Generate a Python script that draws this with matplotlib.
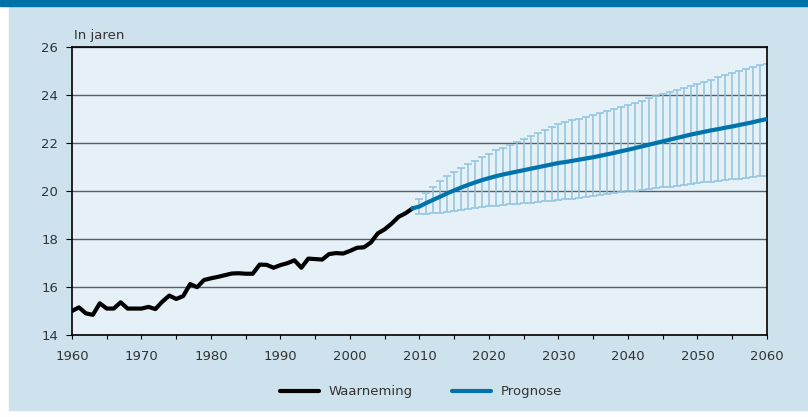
import matplotlib.pyplot as plt
from matplotlib.patches import Rectangle

# Waarneming 1960-2009
obs_years = list(range(1960, 2010))
obs_values = [15.0, 15.15, 14.9, 14.84, 15.32, 15.1, 15.1, 15.36, 15.1, 15.1,
              15.1, 15.17, 15.08, 15.39, 15.64, 15.5, 15.62, 16.12, 15.99, 16.29,
              16.36, 16.42, 16.49, 16.56, 16.57, 16.55, 16.55, 16.93, 16.92, 16.8,
              16.91, 16.99, 17.11, 16.8, 17.18, 17.16, 17.14, 17.37, 17.41, 17.39,
              17.5, 17.63, 17.65, 17.85, 18.23, 18.4, 18.64, 18.92, 19.07, 19.27]

# Prognose 2009-2060 (2009 = laatste waarneming)
prog_years = list(range(2009, 2061))
prog_mean = [19.27,
             19.35, 19.5, 19.63, 19.76, 19.9, 20.02, 20.14, 20.25, 20.35, 20.45,
             20.53, 20.61, 20.68, 20.74, 20.8, 20.86, 20.92, 20.98, 21.04, 21.1,
             21.16, 21.2, 21.25, 21.3, 21.35, 21.4, 21.46, 21.52, 21.58, 21.65,
             21.71, 21.78, 21.85, 21.92, 21.99, 22.06, 22.13, 22.2, 22.27, 22.34,
             22.4, 22.46, 22.52, 22.57, 22.63, 22.68, 22.74, 22.8, 22.86, 22.93,
             22.99]
prog_upper = [19.27,
              19.67, 19.93, 20.18, 20.39, 20.6, 20.78, 20.94, 21.1, 21.25, 21.4,
              21.55, 21.68, 21.8, 21.92, 22.04, 22.16, 22.28, 22.4, 22.52, 22.65,
              22.78, 22.86, 22.93, 23.0, 23.08, 23.16, 23.24, 23.32, 23.41, 23.5,
              23.58, 23.67, 23.76, 23.85, 23.94, 24.03, 24.11, 24.19, 24.27, 24.36,
              24.44, 24.53, 24.62, 24.72, 24.81, 24.9, 24.98, 25.06, 25.14, 25.22,
              25.29]
prog_lower = [19.27,
              19.03, 19.03, 19.06, 19.09, 19.13, 19.17, 19.2, 19.24, 19.28, 19.31,
              19.35, 19.38, 19.41, 19.44, 19.46, 19.49, 19.51, 19.54, 19.56, 19.59,
              19.62, 19.65, 19.68, 19.71, 19.74, 19.78, 19.82, 19.86, 19.9, 19.94,
              19.98, 20.01, 20.04, 20.07, 20.11, 20.15, 20.18, 20.22, 20.25, 20.29,
              20.32, 20.35, 20.38, 20.41, 20.44, 20.48, 20.51, 20.54, 20.57, 20.6,
              20.63]

x_ticks = list(range(1960, 2061, 10))
y_ticks = [14, 16, 18, 20, 22, 24, 26]

panel_bg = '#cde2ed'
plot_bg = '#e5f0f7'
band_col = '#0072aa'
blue = '#0073aa'
err_col = '#8fc3dd'
text_col = '#333333'

plt.rcParams['font.family'] = ['DejaVu Sans']

fig = plt.figure(figsize=(8.08, 4.17), dpi=100)
fig.patch.set_facecolor('white')
# achtergrondpaneel en blauwe balk bovenaan
fig.patches.append(Rectangle((9 / 808, 1 - 410 / 417), 1 - 9 / 808, (410 - 6) / 417,
                             transform=fig.transFigure, color=panel_bg, zorder=-10))
fig.patches.append(Rectangle((0, 1 - 6 / 417), 1, 6 / 417,
                             transform=fig.transFigure, color=band_col, zorder=-10))

ax = fig.add_axes([72 / 808, 1 - 335 / 417, (767 - 72) / 808, (335 - 46.7) / 417])
ax.set_facecolor(plot_bg)

# foutmarges
ey = prog_mean[1:]
lo = [m - l for m, l in zip(ey, prog_lower[1:])]
hi = [u - m for m, u in zip(ey, prog_upper[1:])]
ax.errorbar(prog_years[1:], ey, yerr=[lo, hi], fmt='none', ecolor=err_col,
            elinewidth=1.1, capsize=2.6, capthick=1.1, zorder=2)

ax.plot(obs_years, obs_values, color='black', lw=3, zorder=3,
        solid_capstyle='round', solid_joinstyle='round', label='Waarneming')
ax.plot(prog_years, prog_mean, color=blue, lw=3, zorder=3,
        solid_capstyle='round', label='Prognose')

ax.set_xlim(1960, 2060)
ax.set_ylim(14, 26)
ax.set_xticks(x_ticks)
ax.set_xticks(list(range(1960, 2061, 5)), minor=True)
ax.set_yticks(y_ticks)
ax.grid(axis='y', color='#5f5f5f', lw=1.0, zorder=1)
ax.set_axisbelow(True)
for s in ax.spines.values():
    s.set_color('black')
    s.set_linewidth(1.2)
ax.tick_params(axis='both', which='both', colors='black', labelcolor=text_col,
               labelsize=9.5, width=0.8)
ax.tick_params(axis='x', which='both', length=3, pad=8)
ax.tick_params(axis='y', length=4, pad=6)
ax.tick_params(axis='x', which='minor', length=3)

fig.text(74 / 808, 1 - 35 / 417, 'In jaren', fontsize=9.5, color=text_col,
         ha='left', va='center')

fig.legend(loc='center', bbox_to_anchor=(421 / 808, 1 - 392 / 417), ncol=2,
           frameon=False, fontsize=9.5, handlelength=2.95, handletextpad=0.7,
           columnspacing=3.0, labelcolor=text_col)

fig.savefig('out.png', dpi=100, facecolor=fig.get_facecolor())
